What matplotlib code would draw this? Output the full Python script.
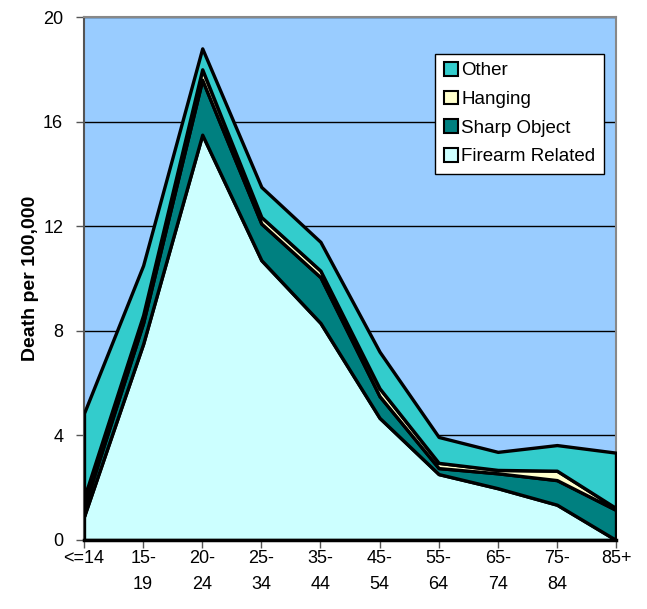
import numpy as np
import matplotlib
matplotlib.use('Agg')
import matplotlib.pyplot as plt
from matplotlib.patches import Patch

# age groups on the x axis
age_groups = ['<=14', '15-\n19', '20-\n24', '25-\n34', '35-\n44',
              '45-\n54', '55-\n64', '65-\n74', '75-\n84', '85+']

# rates per 100,000 by cause (stacked bottom to top)
firearm = [0.9, 7.5, 15.5, 10.7, 8.3, 4.67, 2.52, 1.98, 1.35, 0.0]
sharp_object = [0.35, 0.8, 2.1, 1.4, 1.75, 0.83, 0.23, 0.57, 0.94, 1.15]
hanging = [0.35, 0.3, 0.4, 0.25, 0.25, 0.3, 0.2, 0.13, 0.36, 0.07]
other = [3.25, 1.9, 0.8, 1.15, 1.1, 1.4, 0.99, 0.69, 0.98, 2.12]

colors = ['#CCFFFF', '#008080', '#FFFFCC', '#33CCCC']
names = ['Firearm Related', 'Sharp Object', 'Hanging', 'Other']

plt.rcParams['font.family'] = ['Liberation Sans', 'DejaVu Sans']

fig = plt.figure(figsize=(6.47, 6.09), dpi=100)
ax = fig.add_axes([84 / 647, 69 / 609, 532 / 647, 523 / 609])
ax.set_facecolor('#99CCFF')

x = np.arange(len(age_groups))
ax.stackplot(x, firearm, sharp_object, hanging, other, colors=colors,
             edgecolor='black', linewidth=2.4, zorder=3)

ax.set_xlim(0, len(age_groups) - 1)
ax.set_ylim(0, 20)
ax.set_yticks([0, 4, 8, 12, 16, 20])
ax.set_xticks(x)
ax.set_xticklabels(age_groups, fontsize=13, linespacing=1.75)
ax.tick_params(axis='y', labelsize=13, direction='out', length=6, width=1,
               color='#555555', pad=9)
ax.tick_params(axis='x', direction='out', length=6, width=1, color='#555555',
               pad=1)

ax.grid(axis='y', color='black', linewidth=1)
ax.set_axisbelow(True)

for side in ['top', 'right']:
    ax.spines[side].set_color('#888888')
    ax.spines[side].set_linewidth(1.5)
ax.spines['left'].set_color('#555555')
ax.spines['left'].set_linewidth(1.5)
ax.spines['bottom'].set_color('black')
ax.spines['bottom'].set_linewidth(2.5)
ax.spines['bottom'].set_zorder(4)

ax.set_ylabel('Death per 100,000', fontsize=14, fontweight='bold', labelpad=3)

handles = [Patch(facecolor=c, edgecolor='black', linewidth=1.5, label=n)
           for c, n in zip(colors, names)][::-1]
leg = ax.legend(handles=handles, loc='upper left', bbox_to_anchor=(0.66, 0.93),
                fontsize=13.5, frameon=True, fancybox=False, edgecolor='black',
                framealpha=1, facecolor='white',
                handlelength=0.75, handleheight=0.75, handletextpad=0.2,
                labelspacing=0.6, borderpad=0.45, borderaxespad=0)
leg.get_frame().set_linewidth(1)
leg.set_zorder(5)

fig.savefig('out.png', dpi=100)
